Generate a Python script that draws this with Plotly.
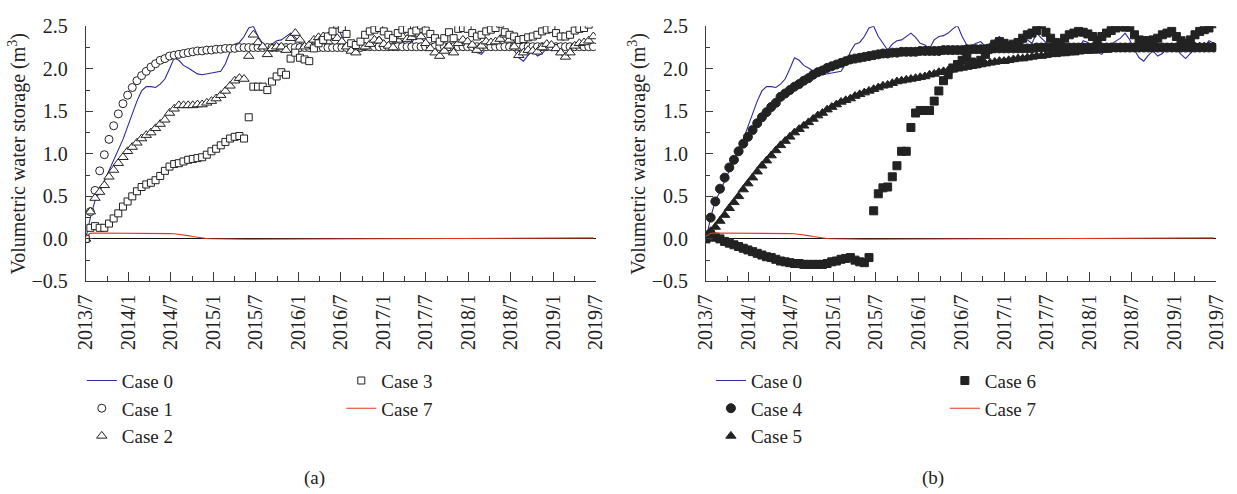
import pandas as pd
import plotly.graph_objects as go

# ---- data (20-day sampling from 2013-07-01) ----
dates = pd.date_range("2013-07-01", periods=110, freq="20D")

tick_dates = ["2013-07-01", "2014-01-01", "2014-07-01", "2015-01-01", "2015-07-01",
              "2016-01-01", "2016-07-01", "2017-01-01", "2017-07-01", "2018-01-01",
              "2018-07-01", "2019-01-01", "2019-07-01"]
tick_labels = ["2013/7", "2014/1", "2014/7", "2015/1", "2015/7", "2016/1", "2016/7",
               "2017/1", "2017/7", "2018/1", "2018/7", "2019/1", "2019/7"]

case0 = [0.00, 0.25, 0.45, 0.55, 0.68, 0.80, 0.92, 1.03, 1.17, 1.32,
         1.47, 1.62, 1.74, 1.79, 1.79, 1.78, 1.82, 1.88, 2.00, 2.13,
         2.10, 2.04, 2.01, 1.97, 1.94, 1.93, 1.94, 1.95, 1.96, 1.97,
         2.06, 2.20, 2.29, 2.31, 2.38, 2.48, 2.50, 2.38, 2.30, 2.22,
         2.29, 2.33, 2.34, 2.38, 2.42, 2.37, 2.30, 2.28, 2.24, 2.34,
         2.38, 2.39, 2.42, 2.47, 2.51, 2.38, 2.28, 2.27, 2.30, 2.32,
         2.26, 2.30, 2.34, 2.38, 2.32, 2.26, 2.24, 2.28, 2.30, 2.34,
         2.30, 2.42, 2.36, 2.31, 2.26, 2.25, 2.27, 2.25, 2.26, 2.25,
         2.24, 2.33, 2.31, 2.25, 2.19, 2.17, 2.24, 2.29, 2.32, 2.36,
         2.42, 2.34, 2.22, 2.13, 2.09, 2.16, 2.21, 2.15, 2.18, 2.24,
         2.25, 2.23, 2.17, 2.12, 2.18, 2.23, 2.24, 2.26, 2.33, 2.30]

case1 = [0.00, 0.32, 0.57, 0.80, 0.99, 1.17, 1.33, 1.47, 1.59, 1.69,
         1.78, 1.86, 1.92, 1.97, 2.02, 2.06, 2.10, 2.12, 2.15, 2.16,
         2.17, 2.18, 2.19, 2.20, 2.21, 2.21, 2.22, 2.22, 2.23, 2.23,
         2.24, 2.24, 2.24, 2.25, 2.25, 2.25, 2.25, 2.25, 2.25, 2.25,
         2.25, 2.25, 2.25, 2.25, 2.25, 2.25, 2.25, 2.25, 2.25, 2.25,
         2.25, 2.25, 2.25, 2.25, 2.25, 2.25, 2.25, 2.25, 2.25, 2.25,
         2.26, 2.26, 2.26, 2.26, 2.26, 2.26, 2.26, 2.26, 2.26, 2.26,
         2.26, 2.26, 2.26, 2.26, 2.26, 2.26, 2.26, 2.26, 2.26, 2.26,
         2.26, 2.26, 2.26, 2.26, 2.26, 2.26, 2.26, 2.26, 2.26, 2.26,
         2.26, 2.26, 2.26, 2.26, 2.26, 2.26, 2.26, 2.26, 2.26, 2.26,
         2.26, 2.26, 2.26, 2.26, 2.26, 2.26, 2.26, 2.26, 2.26, 2.26]

case2 = [0.00, 0.32, 0.48, 0.55, 0.63, 0.73, 0.81, 0.89, 0.96, 1.03,
         1.08, 1.13, 1.18, 1.22, 1.25, 1.30, 1.35, 1.40, 1.48, 1.53,
         1.57, 1.57, 1.57, 1.57, 1.58, 1.58, 1.60, 1.62, 1.65, 1.69,
         1.74, 1.80, 1.86, 1.89, 1.88, 2.15, 2.40, 2.31, 2.26, 2.17,
         2.24, 2.26, 2.26, 2.22, 2.36, 2.42, 2.34, 2.26, 2.28, 2.34,
         2.37, 2.38, 2.32, 2.38, 2.36, 2.32, 2.26, 2.21, 2.19, 2.25,
         2.26, 2.29, 2.34, 2.33, 2.29, 2.27, 2.25, 2.34, 2.38, 2.35,
         2.37, 2.41, 2.38, 2.30, 2.24, 2.19, 2.15, 2.21, 2.27, 2.19,
         2.30, 2.34, 2.32, 2.28, 2.22, 2.27, 2.32, 2.31, 2.32, 2.35,
         2.40, 2.34, 2.26, 2.16, 2.19, 2.22, 2.21, 2.20, 2.25, 2.29,
         2.28, 2.24, 2.19, 2.14, 2.19, 2.27, 2.30, 2.31, 2.33, 2.38]

case3 = [0.00, 0.13, 0.15, 0.13, 0.13, 0.18, 0.24, 0.30, 0.38, 0.44,
         0.50, 0.56, 0.61, 0.64, 0.66, 0.69, 0.74, 0.80, 0.85, 0.88,
         0.89, 0.91, 0.93, 0.94, 0.95, 0.96, 0.99, 1.03, 1.06, 1.10,
         1.14, 1.18, 1.20, 1.21, 1.18, 1.43, 1.79, 1.79, 1.79, 1.75,
         1.85, 1.91, 1.96, 1.93, 2.12, 2.19, 2.13, 2.11, 2.09, 2.24,
         2.30, 2.34, 2.38, 2.44, 2.52, 2.47, 2.41, 2.30, 2.28, 2.32,
         2.40, 2.44, 2.46, 2.48, 2.44, 2.40, 2.36, 2.42, 2.46, 2.47,
         2.43, 2.45, 2.51, 2.45, 2.41, 2.36, 2.32, 2.36, 2.43, 2.36,
         2.47, 2.48, 2.47, 2.42, 2.38, 2.40, 2.44, 2.46, 2.48, 2.53,
         2.43, 2.40, 2.38, 2.34, 2.35, 2.37, 2.38, 2.40, 2.44, 2.46,
         2.47, 2.42, 2.38, 2.38, 2.40, 2.45, 2.47, 2.48, 2.52, None]

case4 = [0.02, 0.25, 0.44, 0.59, 0.72, 0.84, 0.93, 1.03, 1.12, 1.20,
         1.28, 1.36, 1.43, 1.49, 1.55, 1.60, 1.67, 1.71, 1.75, 1.79,
         1.82, 1.86, 1.89, 1.93, 1.96, 1.98, 2.01, 2.03, 2.05, 2.07,
         2.09, 2.11, 2.12, 2.13, 2.14, 2.15, 2.16, 2.17, 2.18, 2.18,
         2.19, 2.19, 2.20, 2.20, 2.20, 2.20, 2.21, 2.21, 2.21, 2.21,
         2.21, 2.22, 2.22, 2.22, 2.22, 2.22, 2.23, 2.23, 2.23, 2.23,
         2.23, 2.23, 2.24, 2.24, 2.24, 2.24, 2.24, 2.24, 2.24, 2.24,
         2.24, 2.25, 2.25, 2.25, 2.25, 2.25, 2.25, 2.25, 2.25, 2.25,
         2.25, 2.25, 2.25, 2.25, 2.25, 2.25, 2.25, 2.25, 2.25, 2.25,
         2.25, 2.25, 2.25, 2.25, 2.25, 2.25, 2.25, 2.25, 2.25, 2.25,
         2.25, 2.25, 2.25, 2.25, 2.25, 2.25, 2.25, 2.25, 2.25, 2.25]

case5 = [0.00, 0.09, 0.14, 0.21, 0.28, 0.36, 0.43, 0.50, 0.58, 0.65,
         0.72, 0.79, 0.86, 0.92, 0.98, 1.04, 1.10, 1.15, 1.20, 1.25,
         1.29, 1.33, 1.37, 1.41, 1.45, 1.48, 1.52, 1.55, 1.58, 1.61,
         1.63, 1.65, 1.68, 1.70, 1.72, 1.74, 1.76, 1.78, 1.80, 1.81,
         1.83, 1.85, 1.86, 1.87, 1.88, 1.89, 1.90, 1.91, 1.93, 1.94,
         1.96, 1.97, 1.98, 1.99, 2.00, 2.01, 2.02, 2.03, 2.04, 2.05,
         2.06, 2.07, 2.08, 2.09, 2.09, 2.10, 2.11, 2.12, 2.12, 2.13,
         2.14, 2.15, 2.15, 2.16, 2.17, 2.17, 2.18, 2.18, 2.19, 2.19,
         2.20, 2.21, 2.21, 2.21, 2.22, 2.22, 2.22, 2.23, 2.23, 2.23,
         2.24, 2.24, 2.24, 2.25, 2.25, 2.25, 2.25, 2.25, 2.25, 2.25,
         2.25, 2.25, 2.25, 2.26, 2.26, 2.26, 2.26, 2.26, 2.26, 2.26]

case6 = [0.00, 0.05, 0.02, 0.00, -0.03, -0.05, -0.07, -0.09, -0.11, -0.13,
         -0.15, -0.17, -0.19, -0.21, -0.22, -0.24, -0.26, -0.27, -0.28, -0.29,
         -0.29, -0.30, -0.30, -0.30, -0.30, -0.30, -0.29, -0.27, -0.26, -0.24,
         -0.23, -0.22, -0.25, -0.27, -0.28, -0.22, 0.33, 0.53, 0.60, 0.61,
         0.73, 0.86, 1.03, 1.03, 1.31, 1.48, 1.51, 1.51, 1.51, 1.62,
         1.74, 1.86, 1.93, 2.01, 2.05, 2.10, 2.13, 2.08, 2.06, 2.10,
         2.17, 2.24, 2.29, 2.32, 2.30, 2.27, 2.29, 2.31, 2.36, 2.40,
         2.42, 2.45, 2.52, 2.43, 2.36, 2.31, 2.30, 2.36, 2.40, 2.42,
         2.44, 2.43, 2.41, 2.38, 2.34, 2.38, 2.42, 2.45, 2.48, 2.50,
         2.49, 2.49, 2.40, 2.34, 2.33, 2.33, 2.34, 2.36, 2.40, 2.42,
         2.44, 2.38, 2.33, 2.30, 2.34, 2.40, 2.44, 2.46, 2.48, 2.53]

case7 = [0.03, 0.065, 0.07, 0.07, 0.07, 0.07, 0.07, 0.07, 0.07, 0.07,
         0.07, 0.07, 0.068, 0.067, 0.066, 0.065, 0.064, 0.063, 0.062, 0.060,
         0.055, 0.047, 0.038, 0.028, 0.018, 0.010, 0.005, 0.002, 0.000, -0.001,
         -0.002, -0.003, -0.004, -0.004, -0.004, -0.004, -0.004, -0.004, -0.004, -0.004,
         -0.004, -0.004, -0.004, -0.004, -0.004, -0.004, -0.004, -0.004, -0.004, -0.004,
         -0.004, -0.004, -0.004, -0.004, -0.004, -0.004, -0.004, -0.004, -0.004, -0.004,
         -0.003, -0.003, -0.002, -0.002, -0.001, -0.001, 0.000, 0.000, 0.001, 0.001,
         0.002, 0.002, 0.003, 0.003, 0.003, 0.003, 0.004, 0.004, 0.004, 0.004,
         0.005, 0.005, 0.005, 0.006, 0.006, 0.006, 0.007, 0.007, 0.008, 0.008,
         0.010, 0.010, 0.011, 0.011, 0.012, 0.012, 0.012, 0.012, 0.012, 0.012,
         0.012, 0.012, 0.012, 0.012, 0.012, 0.012, 0.012, 0.012, 0.012, 0.012]

# ---- styling ----
W, H = 1237, 494
FONT = "Liberation Serif, Times New Roman, DejaVu Serif, serif"
BLUE = "#2e2a9c"
RED = "#e6341f"
INK = "#222222"
AX = "#3a3a3a"

fig = go.Figure()

def line(name, y, color, xa, ya, leg):
    fig.add_trace(go.Scatter(x=dates, y=y, name=name, mode="lines",
                             line=dict(color=color, width=1.1),
                             xaxis=xa, yaxis=ya, legend=leg))

def pts(name, y, symbol, size, xa, ya, leg, filled=False):
    fig.add_trace(go.Scatter(x=dates, y=y, name=name, mode="markers",
                             marker=dict(symbol=symbol, size=size,
                                         color=INK if filled else "white",
                                         line=dict(color=INK, width=1)),
                             xaxis=xa, yaxis=ya, legend=leg))

# panel (a)
line("Case 0", case0, BLUE, "x", "y", "legend")
pts("Case 1", case1, "circle", 8, "x", "y", "legend")
pts("Case 2", case2, "triangle-up", 9, "x", "y", "legend")
pts("Case 3", case3, "square", 7, "x", "y", "legend2")
line("Case 7", case7, RED, "x", "y", "legend2")
# panel (b)
line("Case 0", case0, BLUE, "x2", "y2", "legend3")
pts("Case 4", case4, "circle", 9, "x2", "y2", "legend3", filled=True)
pts("Case 5", case5, "triangle-up", 9, "x2", "y2", "legend3", filled=True)
pts("Case 6", case6, "square", 8, "x2", "y2", "legend4", filled=True)
line("Case 7", case7, RED, "x2", "y2", "legend4")

def px_x(p):
    return p / W

def px_y(p):
    return 1 - p / H

ydom = [px_y(283), px_y(16)]

def xaxis(dom, anchor):
    return dict(domain=dom, anchor=anchor, type="date",
                range=["2013-07-01", "2019-07-01"],
                tickmode="array", tickvals=tick_dates, ticktext=tick_labels,
                tickangle=-90, ticks="inside", ticklen=9, tickwidth=1, tickcolor=AX,
                showline=True, linecolor=AX, linewidth=1, showgrid=False, zeroline=False,
                tickfont=dict(family=FONT, size=20, color=INK),
                ticklabelstandoff=4,
                minor=dict(ticks="inside", ticklen=5, tickwidth=1, tickcolor=AX,
                           dtick="M3", tick0="2013-07-01", showgrid=False))

def yaxis(anchor):
    return dict(domain=ydom, anchor=anchor, range=[-0.5, 2.5],
                tickmode="linear", tick0=-0.5, dtick=0.5, tickformat=".1f",
                ticks="inside", ticklen=7, tickwidth=1, tickcolor=AX,
                showline=True, linecolor=AX, linewidth=1, showgrid=False,
                zeroline=True, zerolinecolor="#111111", zerolinewidth=1,
                tickfont=dict(family=FONT, size=20, color=INK),
                ticklabelstandoff=13,
                minor=dict(ticks="inside", ticklen=4, tickwidth=1, tickcolor=AX,
                           dtick=0.25, showgrid=False),
                title=dict(text="Volumetric water storage (m<sup>3</sup>)",
                           font=dict(family=FONT, size=20, color=INK), standoff=0))

legfont = dict(family=FONT, size=19, color=INK)

def legend(xpix):
    return dict(x=px_x(xpix), y=px_y(367), xanchor="left", yanchor="top",
                bgcolor="rgba(0,0,0,0)", borderwidth=0, font=legfont,
                itemsizing="trace", tracegroupgap=0)

fig.update_layout(
    width=W, height=H, margin=dict(l=0, r=0, t=0, b=0),
    paper_bgcolor="white", plot_bgcolor="white",
    font=dict(family=FONT, size=19, color=INK),
    xaxis=xaxis([px_x(76), px_x(595)], "y"),
    yaxis=yaxis("x"),
    xaxis2=xaxis([px_x(707), px_x(1226)], "y2"),
    yaxis2=yaxis("x2"),
    legend=legend(72), legend2=legend(336),
    legend3=legend(712), legend4=legend(950),
    annotations=[
        dict(text="(a)", x=px_x(309), y=px_y(489), xref="paper", yref="paper",
             xanchor="center", yanchor="middle",
             showarrow=False, font=dict(family=FONT, size=19, color=INK)),
        dict(text="(b)", x=px_x(938), y=px_y(489), xref="paper", yref="paper",
             xanchor="center", yanchor="middle",
             showarrow=False, font=dict(family=FONT, size=19, color=INK)),
    ],
)

fig.write_html("out.html")
